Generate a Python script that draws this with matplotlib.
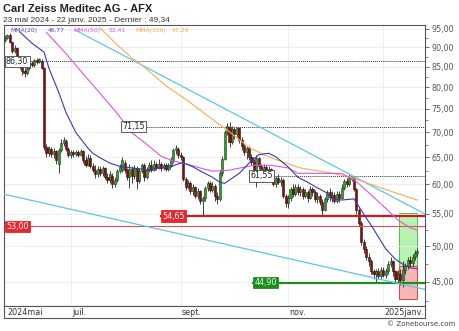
import numpy as np
import matplotlib
matplotlib.use("Agg")
import matplotlib.pyplot as plt
from matplotlib.patches import Rectangle
from matplotlib.ticker import FixedLocator, NullFormatter, FuncFormatter

# daily candles, trading-day index 0 = 23 mai 2024 ... 169 = 22 janv. 2025
opens = [91.8, 92.6, 93.2, 91.3, 89.0, 89.8, 86.5, 85.0, 84.0, 83.3,
         84.6, 85.8, 85.3, 86.6, 86.2, 86.5, 84.6, 67.0, 65.8, 66.6,
         65.6, 66.2, 63.8, 66.4, 67.8, 68.2, 66.6, 65.4, 66.0, 65.6,
         66.0, 65.5, 66.2, 64.4, 63.6, 64.8, 63.4, 62.6, 61.8, 62.8,
         62.0, 62.9, 61.4, 60.8, 61.6, 60.0, 60.8, 62.4, 62.6, 64.0,
         62.6, 61.4, 62.8, 61.5, 63.0, 60.6, 62.4, 63.6, 61.4, 62.6,
         63.6, 62.6, 63.8, 63.0, 63.8, 63.0, 63.6, 62.8, 63.6, 64.4,
         66.4, 66.6, 65.4, 65.0, 61.0, 59.6, 60.2, 58.8, 59.6, 58.0,
         58.8, 57.2, 57.6, 59.4, 60.2, 59.0, 59.8, 58.0, 57.4, 62.0,
         64.6, 70.0, 71.0, 68.0, 70.6, 69.6, 70.8, 68.4, 67.2, 66.0,
         66.8, 65.0, 64.2, 62.4, 64.8, 63.4, 62.2, 63.2, 62.0, 62.8,
         61.4, 60.0, 61.2, 60.4, 60.8, 58.0, 56.8, 57.6, 59.2, 58.4,
         59.6, 58.6, 59.2, 58.0, 58.6, 57.6, 59.2, 58.6, 57.4, 58.0,
         57.0, 55.6, 57.4, 58.6, 57.8, 58.2, 57.2, 58.4, 57.6, 59.4,
         60.6, 60.0, 61.0, 61.2, 59.2, 55.6, 53.6, 50.6, 49.6, 48.4,
         47.8, 46.4, 46.0, 46.4, 45.8, 46.6, 45.9, 46.4, 47.4, 47.8,
         46.4, 45.4, 46.0, 45.2, 46.6, 47.2, 48.0, 47.6, 48.4, 49.0]
closes = [92.6, 93.2, 91.3, 89.0, 89.8, 86.5, 85.0, 84.0, 83.3, 84.6,
          85.8, 85.3, 86.6, 86.2, 86.8, 84.6, 67.0, 65.8, 66.6, 65.6,
          66.2, 64.5, 66.4, 67.8, 68.4, 66.6, 65.4, 66.0, 65.6, 66.0,
          65.5, 66.2, 64.4, 63.6, 64.8, 63.4, 62.6, 61.8, 62.8, 62.0,
          62.9, 61.4, 60.8, 61.9, 60.0, 60.8, 62.4, 63.2, 64.4, 62.6,
          61.4, 62.8, 61.5, 63.0, 60.6, 62.4, 63.6, 61.4, 62.6, 63.6,
          62.6, 63.8, 63.0, 63.8, 63.0, 63.6, 62.8, 63.6, 64.4, 66.4,
          66.8, 65.4, 65.0, 61.0, 59.6, 60.2, 58.8, 59.6, 58.0, 58.8,
          57.2, 57.6, 59.4, 60.2, 59.0, 59.8, 58.0, 57.4, 62.0, 64.6,
          70.0, 71.4, 68.0, 70.6, 69.6, 70.8, 68.4, 67.2, 66.0, 66.8,
          65.0, 64.2, 62.4, 64.8, 63.4, 62.2, 63.2, 62.0, 62.8, 61.4,
          60.0, 61.2, 60.4, 60.8, 58.0, 56.8, 57.6, 59.2, 58.4, 59.6,
          58.6, 59.2, 58.0, 58.6, 57.6, 59.2, 58.6, 57.4, 58.0, 57.0,
          55.6, 57.4, 58.6, 57.8, 58.2, 57.2, 58.4, 57.6, 59.4, 60.6,
          60.0, 61.4, 61.3, 59.2, 55.6, 53.6, 50.6, 49.6, 48.4, 47.8,
          46.4, 46.0, 46.4, 45.8, 46.6, 45.9, 46.4, 47.4, 47.8, 46.4,
          45.4, 46.0, 45.2, 46.6, 47.2, 48.0, 47.6, 48.4, 49.0, 49.34]
highs = [93.2, 93.6, 93.8, 91.5, 90.6, 90.0, 87.0, 85.6, 84.6, 85.0,
         86.3, 86.5, 87.0, 87.3, 87.2, 87.0, 85.0, 67.6, 67.2, 67.0,
         66.8, 66.5, 66.8, 68.6, 69.0, 68.6, 67.0, 66.4, 66.4, 66.5,
         66.4, 66.6, 66.5, 65.2, 65.6, 65.5, 64.0, 63.6, 63.4, 63.3,
         63.3, 63.2, 62.0, 62.4, 62.0, 61.3, 62.8, 63.8, 65.1, 64.4,
         63.0, 63.8, 63.4, 63.6, 63.4, 63.0, 64.0, 64.0, 63.2, 64.2,
         64.4, 64.4, 64.2, 64.6, 64.2, 64.0, 64.0, 64.0, 65.0, 66.8,
         67.4, 67.0, 66.0, 65.2, 61.4, 60.8, 60.6, 60.0, 59.8, 59.4,
         59.0, 58.0, 59.8, 60.6, 60.6, 60.4, 60.0, 58.6, 62.6, 65.2,
         70.4, 72.0, 72.2, 71.4, 71.0, 71.2, 71.2, 69.0, 67.8, 67.2,
         67.2, 65.6, 64.6, 65.4, 65.0, 63.8, 63.8, 63.6, 63.4, 63.0,
         61.8, 61.6, 61.8, 61.4, 61.2, 58.4, 58.2, 59.6, 60.0, 60.0,
         60.0, 59.8, 59.6, 59.2, 59.0, 59.8, 59.6, 59.0, 58.6, 58.4,
         57.4, 57.8, 59.0, 59.4, 58.8, 58.6, 58.8, 58.8, 60.0, 61.0,
         61.2, 61.8, 61.55, 61.6, 59.4, 56.0, 53.8, 51.0, 50.0, 49.0,
         48.2, 46.8, 46.8, 46.9, 47.0, 47.0, 46.9, 47.8, 48.4, 48.0,
         46.6, 46.6, 46.8, 47.8, 47.6, 48.4, 48.6, 48.8, 49.4, 49.8]
lows = [91.5, 92.2, 91.0, 88.6, 88.5, 86.0, 84.5, 83.0, 82.5, 82.8,
        84.2, 84.8, 85.0, 85.6, 85.8, 84.3, 66.4, 65.0, 65.3, 65.0,
        64.8, 63.8, 62.0, 66.0, 67.2, 66.2, 65.0, 64.8, 65.0, 65.2,
        65.0, 65.2, 64.0, 63.2, 63.4, 63.0, 62.2, 61.2, 61.4, 61.5,
        61.6, 61.0, 60.3, 60.2, 59.4, 59.6, 60.5, 62.0, 62.2, 62.0,
        60.8, 59.3, 60.2, 61.0, 59.2, 60.2, 62.0, 60.6, 61.0, 62.2,
        62.2, 62.4, 62.6, 62.8, 62.5, 62.6, 62.4, 62.4, 63.2, 64.0,
        65.6, 64.8, 64.5, 60.6, 59.0, 59.2, 58.4, 58.2, 57.6, 57.4,
        56.6, 54.65, 57.2, 58.8, 58.6, 58.6, 57.2, 56.6, 57.2, 61.6,
        64.4, 69.4, 67.0, 67.6, 68.6, 69.0, 67.8, 66.4, 65.4, 64.6,
        64.4, 63.6, 62.0, 59.6, 62.8, 61.8, 61.6, 61.5, 61.4, 60.8,
        59.8, 59.6, 60.0, 59.8, 57.6, 56.2, 56.0, 57.2, 57.8, 58.0,
        58.2, 58.0, 57.4, 57.6, 57.0, 57.4, 58.0, 57.0, 56.8, 56.4,
        54.7, 55.4, 57.0, 57.2, 57.0, 56.8, 56.8, 57.0, 57.4, 59.0,
        59.6, 59.8, 60.6, 58.8, 55.0, 53.0, 50.2, 49.0, 48.0, 47.2,
        46.0, 45.4, 44.9, 45.4, 45.4, 45.6, 45.5, 46.0, 47.0, 45.8,
        45.0, 44.9, 44.6, 44.3, 46.0, 46.8, 47.2, 47.2, 48.0, 48.6]

# moving averages (day, value)
ma20_days = [6, 11, 16, 18, 22, 25, 29, 34, 36, 39, 43, 47, 52, 59, 64, 68, 70, 73,
             77, 81, 85, 88, 90, 92, 96, 100, 104, 108, 111, 116, 120, 124, 128,
             132, 134, 138, 143, 146, 151, 156, 160, 163, 166, 169]
ma20_vals = [94.2, 91.1, 88.7, 84.6, 78.8, 74.2, 70.0, 66.8, 65.8, 64.9, 63.9, 63.3,
             63.0, 62.6, 63.2, 63.2, 63.6, 64.0, 63.2, 62.2, 61.3, 60.4, 60.2, 60.8,
             62.0, 63.9, 65.5, 65.8, 65.1, 63.2, 61.3, 60.4, 59.4, 58.5, 57.5, 57.3,
             57.5, 55.6, 52.6, 49.6, 48.1, 47.4, 46.9, 46.77]
ma50_days = [17, 25, 32, 39, 46, 52, 59, 64, 69, 73, 80, 85, 92, 102, 109, 116, 120,
             126, 133, 138, 144, 150, 155, 161, 166, 169]
ma50_vals = [94.0, 88.3, 83.2, 78.5, 74.0, 69.9, 67.2, 65.2, 64.3, 63.9, 63.0, 62.4,
             62.6, 63.5, 63.5, 63.0, 62.0, 62.0, 62.0, 62.0, 60.5, 58.2, 56.3, 54.0,
             52.8, 52.41]
ma100_days = [39, 46, 52, 57, 66, 75, 83, 92, 100, 109, 121, 133, 141, 154, 169]
ma100_vals = [95.3, 90.6, 87.2, 84.9, 80.3, 76.8, 73.5, 70.1, 66.9, 64.9, 63.0, 62.1,
              61.4, 59.4, 57.29]

# trend lines (start/end day, price)
upper_days, upper_vals = [28.7, 172.1], [94.7, 55.0]
lower_days, lower_vals = [-0.4, 172.1], [58.3, 44.0]

# support / resistance levels
dotted_levels = [86.30, 71.15, 61.55]
dotted_from = [0, 47.5, 100]
res_levels = [54.65, 53.00]
res_from = [64, 0]
sup_level, sup_from = 44.90, 101.7

# target / stop zones
zone_days = [161.5, 168.9]
zone_target, zone_entry, zone_stop = 55.1, 47.2, 42.8

month_days = [27, 72, 116, 155]
month_labels = ["juil.", "sept.", "nov.", "2025janv."]
yticks = [45, 50, 55, 60, 65, 70, 75, 80, 85, 90, 95]

W, H = 460, 331
fig = plt.figure(figsize=(W / 100, H / 100), dpi=100)
fig.patch.set_facecolor("white")

ax = fig.add_axes([4 / W, 25 / H, 421 / W, 281 / H])
ax.set_yscale("log")
ax.set_xlim(-0.4, 172.1)
ax.set_ylim(41.9, 96.1)

# grid
ax.set_xticks(month_days)
ax.tick_params(axis="x", length=0, labelbottom=False)
ax.yaxis.tick_right()
ax.yaxis.set_major_locator(FixedLocator(yticks))
ax.yaxis.set_major_formatter(FuncFormatter(lambda v, p: f"{v:.2f}".replace(".", ",")))
ax.yaxis.set_minor_locator(FixedLocator(np.arange(42.5, 96, 2.5)))
ax.yaxis.set_minor_formatter(NullFormatter())
ax.tick_params(axis="y", which="major", length=3, width=0.6, color="#555",
               labelsize=5.8, labelcolor="#555", pad=1.5)
ax.tick_params(axis="y", which="minor", length=1.8, width=0.5, color="#555")
ax.grid(True, which="major", color="#ebebeb", lw=0.6, zorder=0)
for s in ax.spines.values():
    s.set_color("#555")
    s.set_linewidth(0.8)

# zones
ax.add_patch(Rectangle((zone_days[0], zone_entry), zone_days[1] - zone_days[0],
                       zone_target - zone_entry, fc="#b8f2b0", ec="#4cc44c", lw=0.7, zorder=1))
ax.add_patch(Rectangle((zone_days[0], zone_stop), zone_days[1] - zone_days[0],
                       zone_entry - zone_stop, fc="#f6b6b6", ec="#e04040", lw=0.7, zorder=1))

# candles
days = np.arange(len(closes))
o = np.array(opens)
c = np.array(closes)
up = c >= o
ax.vlines(days, lows, highs, color="#222", lw=0.6, zorder=2)
bottom = np.minimum(o, c)
height = np.maximum(np.abs(c - o), 0.15)
ax.bar(days[up], height[up], bottom=bottom[up], width=0.85, color="#2f9e2f",
       edgecolor="#1a3a1a", lw=0.4, zorder=3)
ax.bar(days[~up], height[~up], bottom=bottom[~up], width=0.85, color="#7a1414",
       edgecolor="#3a0808", lw=0.4, zorder=3)

# levels
for lv, x0 in zip(dotted_levels, dotted_from):
    ax.plot([x0, 172.1], [lv, lv], color="#333", lw=0.7, ls=(0, (1, 1)), zorder=4)
    ax.text(x0 + 0.4, lv, f"{lv:.2f}".replace(".", ","), fontsize=5.8, color="#222",
            ha="left", va="center", zorder=7,
            bbox=dict(boxstyle="square,pad=0.15", fc="white", ec="#444", lw=0.6))
ax.plot([res_from[0], 172.1], [res_levels[0]] * 2, color="#c41e1e", lw=1.6, zorder=4)
ax.plot([res_from[1], 172.1], [res_levels[1]] * 2, color="#e05050", lw=0.8, zorder=4)
for lv, x0 in zip(res_levels, res_from):
    ax.text(x0 + 0.4, lv, f"{lv:.2f}".replace(".", ","), fontsize=5.8, color="white",
            ha="left", va="center", zorder=7,
            bbox=dict(boxstyle="square,pad=0.15", fc="#e8262b", ec="#e8262b", lw=0.6))
ax.plot([sup_from, 172.1], [sup_level] * 2, color="#1e8c1e", lw=1.6, zorder=4)
ax.text(sup_from + 0.4, sup_level, f"{sup_level:.2f}".replace(".", ","), fontsize=5.8,
        color="#d8ffd8", ha="left", va="center", zorder=7,
        bbox=dict(boxstyle="square,pad=0.15", fc="#1e8c1e", ec="#1e8c1e", lw=0.6))

# trend lines and moving averages
ax.plot(upper_days, upper_vals, color="#5cc6e6", lw=0.9, zorder=5)
ax.plot(lower_days, lower_vals, color="#5cc6e6", lw=0.9, zorder=5)
ax.plot(ma100_days, ma100_vals, color="#f3ad55", lw=0.8, zorder=5)
ax.plot(ma50_days, ma50_vals, color="#dd55dd", lw=0.8, zorder=5)
ax.plot(ma20_days, ma20_vals, color="#3a3aa8", lw=0.8, zorder=5)

# date band under the chart
band = fig.add_axes([4 / W, 13 / H, 421 / W, 12 / H])
band.set_xlim(-0.4, 172.1)
band.set_ylim(0, 1)
band.set_xticks([])
band.set_yticks([])
for s in band.spines.values():
    s.set_color("#555")
    s.set_linewidth(0.8)
band.text(0.8, 0.45, "2024mai", fontsize=5.8, color="#333", ha="left", va="center")
for d, lab in zip(month_days, month_labels):
    band.text(d + 0.4, 0.45, lab, fontsize=5.8, color="#333", ha="left", va="center")


def px(x, y):
    return x / W, 1 - y / H


fig.text(*px(3, 9.5), "Carl Zeiss Meditec AG - AFX", fontsize=8, fontweight="bold",
         family="Liberation Sans", color="#222", ha="left", va="center")
fig.text(*px(3, 20), "23 mai 2024 - 22 janv. 2025 - Dernier : 49,34", fontsize=6,
         family="Liberation Sans", color="#333", ha="left", va="center")

legend = [(10, "MMA(20)", "#4444bb"), (44, ":", "#999"), (48, "46,77", "#4444bb"),
          (68, "-", "#999"), (73, "MMA(50)", "#dd55dd"), (109, "52,41", "#dd55dd"),
          (135, "MMA(100)", "#f0a848"), (172, "57,29", "#f0a848")]
for x, t, col in legend:
    fig.text(*px(x, 30.5), t, fontsize=4.3, color=col, ha="left", va="center")

fig.text(*px(455, 323.5), "© Zonebourse.com", fontsize=5, color="#444",
         ha="right", va="center")

fig.savefig("out.png", dpi=100, facecolor="white")
